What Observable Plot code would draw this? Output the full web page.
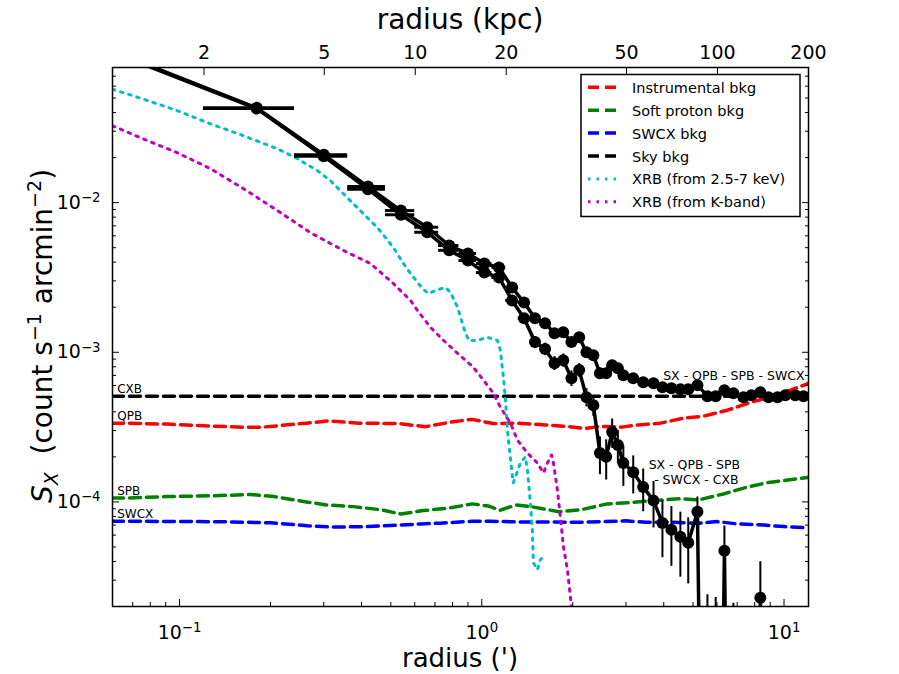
<!DOCTYPE html>
<html><head><meta charset="utf-8">
<script src="https://cdn.jsdelivr.net/npm/d3@7"></script>
<script src="https://cdn.jsdelivr.net/npm/@observablehq/plot@0.6"></script>
<style>body{margin:0;background:#fff;} svg{display:block}</style>
</head><body><div id="chart"></div>
<script>
// ---------- data ----------
const profileRadius = [0.06,0.18,0.30,0.42,0.54,0.66,0.78,0.90,1.02,1.14,1.26,1.38,1.50,1.62,1.74,1.86,1.98,2.10,2.22,2.34,2.46,2.58,2.70,2.82,2.94,3.17,3.42,3.70,3.96,4.24,4.54,4.82,5.17,5.58,5.94,6.35,6.80,7.34,7.80,8.35,8.88,9.51,10.1,10.9,11.6];
const radiusHalfWidth = [0.06,0.06,0.06,0.06,0.06,0.06,0.06,0.06,0.06,0.06,0.06,0.06,0.06,0.06,0.06,0.06,0.06,0.06,0.06,0.06,0.06,0.06,0.06,0.06,0.06,0.11,0.12,0.13,0.13,0.14,0.15,0.15,0.17,0.19,0.19,0.21,0.22,0.25,0.23,0.26,0.27,0.30,0.31,0.38,0.35];
// SX - QPB - SPB - SWCX
const sxNoCXBsub = [0.103,0.0430,0.0209,0.0128,0.00885,0.00685,0.00517,0.00457,0.00392,0.00369,0.00271,0.00215,0.00169,0.00156,0.00134,0.00136,0.00117,0.00126,0.00100,0.000955,0.000724,0.000724,0.000819,0.000782,0.000702,0.000671,0.000631,0.000621,0.000584,0.000575,0.000567,0.000567,0.000603,0.000509,0.000509,0.000558,0.000533,0.000500,0.000517,0.000541,0.000501,0.000501,0.000517,0.000517,0.000509];
// SX - QPB - SPB - SWCX - CXB
const sxAllSub = [0.101,0.0425,0.0204,0.0123,0.0083,0.00634,0.00480,0.0041,0.00341,0.00316,0.00222,0.00169,0.00117,0.00105,0.000845,0.000884,0.000671,0.00076,0.000501,0.000443,0.000212,0.000200,0.000293,0.000240,0.000182,0.000158,0.000126,0.000102,0.0000724,0.0000651,0.0000584,0.0000533,0.0000858,-0.000005,-0.000006,0.0000471,-0.000008,-0.00001,-0.000015,0.0000229,-0.00001,-0.00001,-0.00001,-0.00001,-0.00001];
const sxError = [0.003,0.0015,0.0008,0.0005,0.0004,0.0003,0.00025,0.0002,0.00018,0.00016,0.00014,0.00012,0.0001,0.0001,0.00009,0.00009,0.00008,0.00008,0.00007,0.00007,0.00006,0.00006,0.000065,0.00006,0.000055,0.000045,0.00004,0.000035,0.00003,0.000028,0.000027,0.000025,0.000022,0.000029,0.000029,0.000022,0.000029,0.000025,0.000025,0.000017,0.000025,0.000025,0.000025,0.000025,0.000025];

const qpbRadius = [0.06,0.066,0.091,0.12,0.163,0.185,0.263,0.311,0.391,0.53,0.65,0.803,0.927,1.09,1.29,1.62,1.90,2.2,2.5,2.9,3.3,3.9,4.66,5.4,6.5,7.6,8.9,10.5,12.05];
const qpbValue  = [3.36e-4,3.36e-4,3.31e-4,3.23e-4,3.15e-4,3.15e-4,3.36e-4,3.48e-4,3.36e-4,3.34e-4,3.18e-4,3.43e-4,3.56e-4,3.34e-4,3.36e-4,3.27e-4,3.2e-4,3.1e-4,3.2e-4,3.16e-4,3.27e-4,3.36e-4,3.63e-4,3.74e-4,4.1e-4,4.57e-4,5.0e-4,5.58e-4,6.2e-4];

const spbRadius = [0.06,0.0665,0.0907,0.129,0.172,0.2055,0.263,0.306,0.376,0.466,0.539,0.64,0.787,0.931,1.05,1.15,1.3,1.45,1.8,2.15,2.6,3.1,3.7,4.55,5.2,6.3,7.6,8.9,10.3,12.05];
const spbValue  = [1.06e-4,1.06e-4,1.085e-4,1.1e-4,1.12e-4,1.085e-4,1.0e-4,9.55e-5,9.3e-5,8.85e-5,8.3e-5,8.75e-5,9.12e-5,9.7e-5,9.4e-5,8.8e-5,9.55e-5,9.3e-5,8.6e-5,8.9e-5,9.7e-5,9.9e-5,1.02e-4,1.05e-4,1.03e-4,1.13e-4,1.26e-4,1.35e-4,1.4e-4,1.46e-4];

const swcxRadius = [0.06,0.1,0.15,0.2,0.23,0.265,0.31,0.36,0.42,0.53,0.63,0.73,0.93,1.07,1.3,1.7,2.1,2.5,3.0,3.5,4.3,5.25,6.0,7.0,8.6,10.0,12.05];
const swcxValue  = [7.43e-5,7.4e-5,7.35e-5,7.25e-5,7.1e-5,6.92e-5,6.81e-5,6.81e-5,6.84e-5,6.99e-5,7.13e-5,7.21e-5,7.43e-5,7.43e-5,7.35e-5,7.35e-5,7.3e-5,7.39e-5,7.47e-5,7.3e-5,7.3e-5,7.21e-5,7.39e-5,7.13e-5,7.0e-5,6.84e-5,6.7e-5];

const cxbRadius = [0.06, 12.05];
const cxbValue  = [5.09e-4, 5.09e-4];

const xrbHardRadius = [0.06,0.076,0.0985,0.1266,0.1628,0.2108,0.2456,0.286,0.3157,0.3485,0.396,0.4515,0.51,0.5506,0.581,0.636,0.666,0.702,0.758,0.788,0.831,0.87,0.904,0.967,1.044,1.126,1.152,1.179,1.198,1.216,1.263,1.271,1.342,1.394,1.416,1.448,1.47,1.482,1.528,1.563,1.623];
const xrbHardValue  = [0.0573,0.0491,0.0411,0.0336,0.028,0.0229,0.01965,0.01634,0.01402,0.01148,0.00885,0.00681,0.00501,0.00392,0.00336,0.00267,0.00247,0.00259,0.00271,0.00251,0.0020,0.00147,0.0012,0.0012,0.00126,0.0012,0.00103,0.00068,0.00048,0.0003,0.000147,0.000134,0.000182,0.0002,0.000163,0.0000985,0.0000651,0.0000392,0.0000352,0.0000411,0.0000443];

const xrbKRadius = [0.06,0.0758,0.0985,0.1266,0.1628,0.2108,0.271,0.3485,0.428,0.51,0.581,0.6125,0.676,0.747,0.831,0.938,1.013,1.092,1.152,1.244,1.312,1.416,1.528,1.6,1.649,1.70,1.72,1.779,1.82,1.863,1.92,1.964,2.0];
const xrbKValue  = [0.0326,0.0267,0.0215,0.01685,0.0124,0.00885,0.0063,0.00479,0.00392,0.00288,0.00222,0.0019,0.00147,0.0012,0.000985,0.000794,0.00065,0.000533,0.00043,0.000336,0.000259,0.000212,0.000182,0.000156,0.000182,0.000206,0.000191,0.00012,0.0000794,0.0000501,0.0000352,0.0000233,0.000015];

// axes ticks / labels
const xMajorTicks = [0.1, 1, 10];
const xMajorLabels = ["10^−1", "10^0", "10^1"];
const xMinorTicks = [0.06,0.07,0.08,0.09,0.2,0.3,0.4,0.5,0.6,0.7,0.8,0.9,2,3,4,5,6,7,8,9];
const yMajorTicks = [1e-4, 1e-3, 1e-2];
const yMajorLabels = ["10^−4", "10^−3", "10^−2"];
const yMinorTicks = [2e-5,3e-5,4e-5,5e-5,6e-5,7e-5,8e-5,9e-5,2e-4,3e-4,4e-4,5e-4,6e-4,7e-4,8e-4,9e-4,2e-3,3e-3,4e-3,5e-3,6e-3,7e-3,8e-3,9e-3,2e-2,3e-2,4e-2,5e-2,6e-2,7e-2];
const kpcTicks = [2, 5, 10, 20, 50, 100, 200];
const kpcPerArcmin = 16.6;

// annotations (data coordinates)
const sideLabels = ["CXB", "QPB", "SPB", "SWCX"];
const sideLabelY = [5.09e-4, 3.36e-4, 1.06e-4, 7.43e-5];
const sideLabelX = 0.0622;
const outerLabel = "SX - QPB - SPB - SWCX";
const outerLabelPos = [11.7, 6.5e-4];
const innerLabel = "SX - QPB - SPB\n - SWCX - CXB";
const innerLabelPos = [5.05, 1.32e-4];

const legendLabels = ["Instrumental bkg","Soft proton bkg","SWCX bkg","Sky bkg","XRB (from 2.5-7 keV)","XRB (from K-band)"];
const legendColors = ["#ff0000","#008000","#0000ff","#000000","#00bfbf","#bf00bf"];
const legendDotted = [false,false,false,false,true,true];

// ---------- build ----------
const FLOOR = 1e-9; // non-positive values are clipped to the bottom, as in the original
const zip = (xs, ys) => xs.map((x, i) => ({x, y: ys[i]}));
const profile = profileRadius.map((r, i) => ({r, dr: radiusHalfWidth[i], upper: sxNoCXBsub[i], lower: sxAllSub[i], err: sxError[i]}));

const DASH = "11,6", DOT = "2.5,6";
function profileMarks(key) {
  const yv = d => Math.max(d[key], FLOOR);
  return [
    Plot.line(profile, {x: "r", y: yv, stroke: "black", strokeWidth: 3.5, clip: true}),
    Plot.ruleX(profile, {x: "r", y1: d => Math.max(d[key] - d.err, FLOOR), y2: d => d[key] + d.err, stroke: "black", strokeWidth: 2, clip: true}),
    Plot.ruleY(profile, {y: yv, x1: d => Math.max(d.r - d.dr, 1e-3), x2: d => d.r + d.dr, stroke: "black", strokeWidth: 3, clip: true}),
    Plot.dot(profile, {x: "r", y: yv, r: 6, fill: "black", clip: true})
  ];
}

const chart = Plot.plot({
  width: 899, height: 674,
  marginLeft: 112, marginRight: 91, marginTop: 67, marginBottom: 68,
  style: {fontFamily: "'DejaVu Sans', sans-serif", fontSize: "19px", background: "white", color: "black"},
  x: {type: "log", domain: [0.06, 12.05]},
  y: {type: "log", domain: [2e-5, 0.08]},
  marks: [
    Plot.line(zip(qpbRadius, qpbValue), {x: "x", y: "y", stroke: "#ff0000", strokeWidth: 3.5, strokeDasharray: DASH, clip: true}),
    Plot.line(zip(spbRadius, spbValue), {x: "x", y: "y", stroke: "#008000", strokeWidth: 3.5, strokeDasharray: DASH, clip: true}),
    Plot.line(zip(swcxRadius, swcxValue), {x: "x", y: "y", stroke: "#0000ff", strokeWidth: 3.5, strokeDasharray: DASH, clip: true}),
    Plot.line(zip(cxbRadius, cxbValue), {x: "x", y: "y", stroke: "#000000", strokeWidth: 3.5, strokeDasharray: DASH, clip: true}),
    Plot.line(zip(xrbHardRadius, xrbHardValue), {x: "x", y: "y", stroke: "#00bfbf", strokeWidth: 3, strokeDasharray: DOT, clip: true}),
    Plot.line(zip(xrbKRadius, xrbKValue), {x: "x", y: "y", stroke: "#bf00bf", strokeWidth: 3, strokeDasharray: DOT, clip: true}),
    ...profileMarks("upper"),
    ...profileMarks("lower"),
    Plot.text(sideLabels, {x: () => sideLabelX, y: (d, i) => sideLabelY[i], text: d => d, textAnchor: "start", lineAnchor: "bottom", dy: -3, fontSize: 12, fill: "black"}),
    Plot.text([outerLabel], {x: () => outerLabelPos[0], y: () => outerLabelPos[1], text: d => d, textAnchor: "end", lineAnchor: "bottom", fontSize: 12.5, fill: "black"}),
    Plot.text([innerLabel], {x: () => innerLabelPos[0], y: () => innerLabelPos[1], text: d => d, textAnchor: "middle", lineAnchor: "bottom", lineHeight: 1.17, fontSize: 12.5, fill: "black"}),
    // top axis (kpc): ticks + labels
    Plot.axisX(kpcTicks.map(k => k / kpcPerArcmin), {anchor: "top", tickSize: -7, tickFormat: () => "", label: null}),
    Plot.text(kpcTicks, {x: k => k / kpcPerArcmin, frameAnchor: "top", dy: -9, lineAnchor: "bottom", text: k => String(k), fontSize: 19, fill: "black"}),
    // bottom axis (arcmin)
    Plot.axisX(xMajorTicks, {anchor: "bottom", tickSize: -7, tickPadding: 26, tickFormat: d => xMajorLabels[xMajorTicks.indexOf(d)], label: null}),
    Plot.axisX(xMinorTicks, {anchor: "bottom", tickSize: -4, tickFormat: () => "", label: null}),
    // left / right axes
    Plot.axisY(yMajorTicks, {anchor: "left", tickSize: -7, tickPadding: 19, tickFormat: d => yMajorLabels[yMajorTicks.indexOf(d)], label: null}),
    Plot.axisY(yMinorTicks, {anchor: "left", tickSize: -4, tickFormat: () => "", label: null}),
    Plot.axisY(yMajorTicks, {anchor: "right", tickSize: -7, tickFormat: () => "", label: null}),
    Plot.axisY(yMinorTicks, {anchor: "right", tickSize: -4, tickFormat: () => "", label: null}),
    Plot.frame({stroke: "black", strokeWidth: 1.5})
  ]
});
document.getElementById("chart").appendChild(chart);

const svg = d3.select(chart);
// superscripts in tick labels
svg.selectAll("text").each(function () {
  const t = this.textContent;
  if (t.includes("^") && this.children.length === 0) {
    const [base, exp] = t.split("^");
    this.textContent = "";
    d3.select(this).append("tspan").text(base);
    d3.select(this).append("tspan").attr("dy", "-0.5em").attr("font-size", "70%").text(exp);
  }
});

// axis titles
svg.append("text").attr("x", 460).attr("y", 29).attr("text-anchor", "middle").attr("font-size", 28).attr("fill", "black").text("radius (kpc)");
svg.append("text").attr("x", 460).attr("y", 667).attr("text-anchor", "middle").attr("font-size", 26).attr("fill", "black").text("radius (')");
const yl = svg.append("text").attr("transform", "translate(52,336) rotate(-90)").attr("text-anchor", "middle").attr("font-size", 28).attr("fill", "black").style("white-space", "pre");
yl.append("tspan").attr("font-style", "italic").text("S");
yl.append("tspan").attr("font-style", "italic").attr("font-size", 19).attr("dy", 6).text("X");
yl.append("tspan").attr("dy", -6).text("  (count s");
yl.append("tspan").attr("font-size", 19).attr("dy", -11).text("−1");
yl.append("tspan").attr("dy", 11).text(" arcmin");
yl.append("tspan").attr("font-size", 19).attr("dy", -11).text("−2");
yl.append("tspan").attr("dy", 11).text(")");

// legend (inside the axes, upper right)
const lg = svg.append("g").attr("font-size", 14.5).attr("fill", "black").attr("text-anchor", "start");
lg.append("rect").attr("x", 581).attr("y", 74.5).attr("width", 219).attr("height", 142).attr("fill", "white").attr("stroke", "black").attr("stroke-width", 1.5);
legendLabels.forEach((lab, i) => {
  const cy = 87.3 + i * 22.9;
  lg.append("line").attr("x1", 588).attr("x2", 618).attr("y1", cy).attr("y2", cy)
    .attr("stroke", legendColors[i]).attr("stroke-width", legendDotted[i] ? 3 : 3.5)
    .attr("stroke-dasharray", legendDotted[i] ? DOT : DASH);
  lg.append("text").attr("x", 632).attr("y", cy + 5.5).attr("text-anchor", "start").text(lab);
});
</script></body></html>
